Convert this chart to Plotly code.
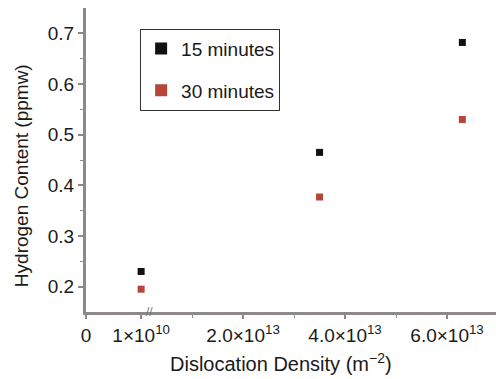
import plotly.graph_objects as go

density = [1e10, 3.5e13, 6.3e13]
h15 = [0.23, 0.465, 0.682]
h30 = [0.195, 0.377, 0.530]
series_names = ["15 minutes", "30 minutes"]
xtick_vals = [-1.08e13, 1e10, 2e13, 4e13, 6e13]
xtick_text = ["0", "1×10<sup>10</sup>", "2.0×10<sup>13</sup>", "4.0×10<sup>13</sup>", "6.0×10<sup>13</sup>"]
ytick_vals = [0.2, 0.3, 0.4, 0.5, 0.6, 0.7]
ytick_text = ["0.2", "0.3", "0.4", "0.5", "0.6", "0.7"]
x_title = "Dislocation Density (m<sup>−2</sup>)"
y_title = "Hydrogen Content (ppmw)"

fam = "Liberation Sans, Arial, sans-serif"
ink = "#1a1a1a"
axcol = "#8e8888"

fig = go.Figure()
fig.add_trace(go.Scatter(x=density, y=h15, mode="markers", name=series_names[0],
                         legendgroup="a",
                         marker=dict(symbol="square", size=7, color="#111111")))
fig.add_trace(go.Scatter(x=density, y=h30, mode="markers", name=series_names[1],
                         legendgroup="b",
                         marker=dict(symbol="square", size=7, color="#b8453c")))

fig.update_layout(
    width=496, height=379,
    margin=dict(l=86, r=0, t=8, b=67),
    paper_bgcolor="white", plot_bgcolor="white",
    font=dict(family=fam, size=18, color=ink),
    showlegend=True,
    legend=dict(x=0.132, y=0.932, xanchor="left", yanchor="top",
                bordercolor="#333333", borderwidth=1, bgcolor="white",
                font=dict(family=fam, size=19, color=ink), itemsizing="constant",
                tracegroupgap=14, traceorder="grouped", itemwidth=30),
    xaxis=dict(range=[-1.08e13, 6.96e13], tickmode="array", tickvals=xtick_vals,
               ticktext=xtick_text, showgrid=False, zeroline=False, automargin=False,
               showline=True, linecolor=axcol, linewidth=3,
               ticks="outside", ticklen=4, tickcolor=axcol, tickwidth=2,
               minor=dict(tickmode="array", tickvals=[1e13, 3e13, 5e13], ticks="outside",
                          ticklen=3, tickcolor=axcol, tickwidth=1),
               tickfont=dict(family=fam, size=19, color=ink)),
    yaxis=dict(range=[0.15, 0.75], tickmode="array", tickvals=ytick_vals,
               ticktext=ytick_text, automargin=False,
               showgrid=False, zeroline=False,
               showline=True, linecolor=axcol, linewidth=3,
               ticks="outside", ticklen=5, tickcolor=axcol, tickwidth=2,
               minor=dict(tickmode="array", tickvals=[0.25, 0.35, 0.45, 0.55, 0.65],
                          ticks="outside", ticklen=3, tickcolor=axcol, tickwidth=1),
               tickfont=dict(family=fam, size=19, color=ink)),
)

fig.add_annotation(x=0.4756, y=-0.1645, xref="paper", yref="paper", text=x_title,
                   showarrow=False, xanchor="center", yanchor="middle",
                   font=dict(family=fam, size=20, color=ink))
fig.add_annotation(x=-0.1585, y=0.447, xref="paper", yref="paper", text=y_title,
                   showarrow=False, xanchor="center", yanchor="middle", textangle=-90,
                   font=dict(family=fam, size=19, color=ink))
fig.add_annotation(x=density[0], y=0.15, xref="x", yref="y", text="//",
                   showarrow=False, xshift=8, font=dict(size=12, color="#777777"))

fig.write_html("out.html", config={"displayModeBar": False},
               post_script="document.body.style.margin='0';document.body.style.padding='0';")
